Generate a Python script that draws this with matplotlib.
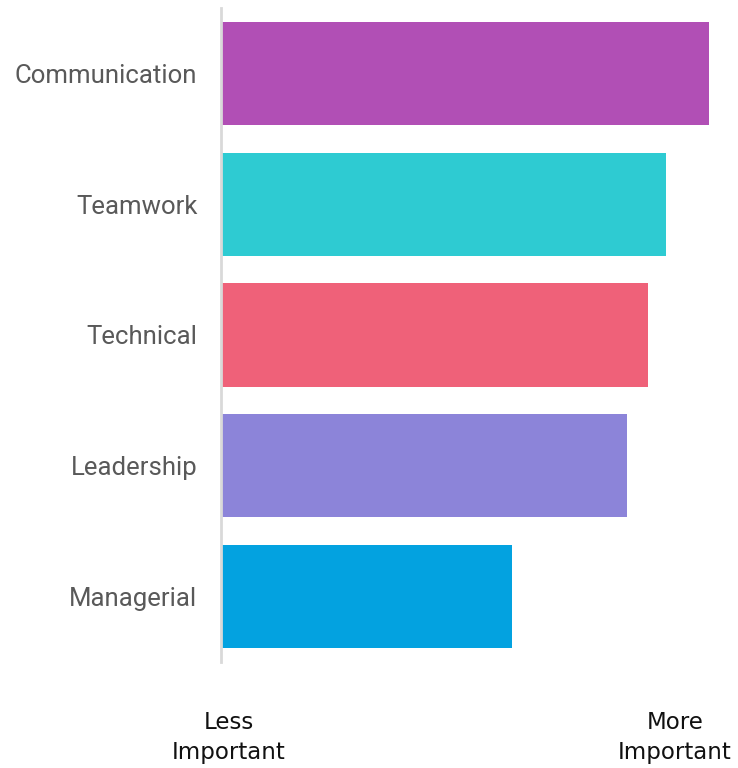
"""
Horizontal bar chart of skill importance.
"""

import matplotlib.pyplot as plt

skills = ["Communication", "Teamwork", "Technical", "Leadership", "Managerial"]
importance = [100, 91.2, 87.5, 83.2, 59.6]
colors = ["#B14FB5", "#2ECBD2", "#EF6179", "#8C84D9", "#03A2E0"]

end_labels = ["Less\nImportant", "More\nImportant"]
end_positions = [1.6, 93.0]


def main() -> None:
    fig = plt.figure(figsize=(7.38, 7.68), dpi=100)
    ax = fig.add_axes([221 / 738, 1 - 662 / 768, 488 / 738, 654 / 768])

    ax.barh(skills, importance, height=0.79, color=colors)
    ax.set_ylim(4.5, -0.5)
    ax.set_xlim(0, 100)

    # only the left axis line is visible
    for side in ["top", "right", "bottom"]:
        ax.spines[side].set_visible(False)
    ax.spines["left"].set_color("#D9D9D9")
    ax.spines["left"].set_linewidth(2)

    ax.tick_params(axis="y", length=0, pad=17, labelsize=18.5,
                   labelcolor="#595959")
    for label in ax.get_yticklabels():
        label.set_fontfamily("Roboto")

    ax.set_xticks(end_positions)
    ax.set_xticklabels(end_labels, fontsize=16.5, color="#111111",
                       linespacing=1.4)
    ax.tick_params(axis="x", length=0, pad=35)

    fig.savefig("out.png", dpi=100)


if __name__ == "__main__":
    main()
